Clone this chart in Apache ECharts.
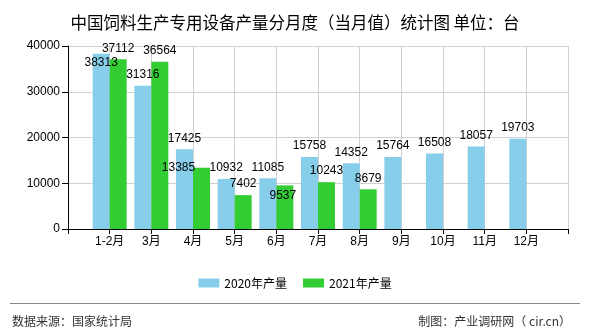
<!DOCTYPE html>
<html>
<head>
<meta charset="utf-8">
<script src="https://cdn.jsdelivr.net/npm/echarts@6/dist/echarts.min.js"></script>
<style>
html,body{margin:0;padding:0;background:#fff;}
#chart{width:590px;height:330px;}
</style>
</head>
<body>
<div id="chart"></div>
<script>
const titleText = '中国饲料生产专用设备产量分月度（当月值）统计图 单位：台';
const categories = ['1-2月','3月','4月','5月','6月','7月','8月','9月','10月','11月','12月'];
const seriesNames = ['2020年产量','2021年产量'];
const values2020 = [38313, 31316, 17425, 10932, 11085, 15758, 14352, 15764, 16508, 18057, 19703];
const values2021 = [37112, 36564, 13385, 7402, 9537, 10243, 8679];
const yTicks = [0, 10000, 20000, 30000, 40000];

const colors = ['#87CEEB', '#32CD32'];
const font = '"Liberation Sans", Arial, "Noto Sans CJK SC", sans-serif';
const cjkFont = '"Noto Sans CJK SC", "Liberation Sans", sans-serif';

// label nudges to mimic reference's collision avoidance (style, not data)
const labelShift = [{0: [0, 20]}, {2: [-23, 11], 4: [-2, 21]}];

function buildData(vals, si) {
  const arr = [null];
  for (let i = 0; i < categories.length; i++) {
    const v = i < vals.length ? vals[i] : null;
    if (v == null) { arr.push(null); continue; }
    const item = {value: v};
    if (labelShift[si][i]) item.label = {offset: labelShift[si][i]};
    arr.push(item);
  }
  arr.push(null);
  return arr;
}

const axisCats = [''].concat(categories).concat(['']);

const chart = echarts.init(document.getElementById('chart'));
chart.setOption({
  animation: false,
  backgroundColor: '#fff',
  title: {
    text: titleText,
    left: 'center',
    top: 9,
    textStyle: {fontSize: 16.5, fontWeight: 'normal', color: '#000', fontFamily: cjkFont}
  },
  legend: {
    data: seriesNames,
    left: 'center',
    top: 272,
    itemWidth: 21,
    itemHeight: 9,
    itemGap: 16,
    textStyle: {fontSize: 12, color: '#000', fontFamily: cjkFont},
    icon: 'rect'
  },
  grid: {left: 68, right: 22, top: 46, bottom: 101, containLabel: false},
  xAxis: {
    type: 'category',
    data: axisCats,
    boundaryGap: false,
    axisLine: {lineStyle: {color: '#000', width: 1}},
    axisTick: {show: true, length: 5, interval: 0, lineStyle: {color: '#000'}},
    axisLabel: {interval: 0, margin: 7, fontSize: 12, color: '#000', fontFamily: font},
    splitLine: {show: true, interval: 0, lineStyle: {color: '#d0d0d0', width: 1}}
  },
  yAxis: {
    type: 'value',
    min: yTicks[0],
    max: yTicks[yTicks.length - 1],
    interval: yTicks[1] - yTicks[0],
    axisLine: {show: true, lineStyle: {color: '#000', width: 1}},
    axisTick: {show: true, length: 6, lineStyle: {color: '#000'}},
    axisLabel: {margin: 8, fontSize: 12, color: '#000', fontFamily: font, formatter: function (v) { return String(v); }},
    splitLine: {show: true, lineStyle: {color: '#d0d0d0', width: 1}}
  },
  series: [
    {
      name: seriesNames[0], type: 'bar', barWidth: 17, barGap: '0%',
      itemStyle: {color: colors[0]},
      label: {show: true, position: 'top', distance: 5, fontSize: 12, color: '#000', fontFamily: font},
      data: buildData(values2020, 0)
    },
    {
      name: seriesNames[1], type: 'bar', barWidth: 17, barGap: '0%',
      itemStyle: {color: colors[1]},
      label: {show: true, position: 'top', distance: 5, fontSize: 12, color: '#000', fontFamily: font},
      data: buildData(values2021, 1)
    }
  ],
  graphic: [
    {type: 'line', shape: {x1: 10, y1: 303.5, x2: 580, y2: 303.5}, style: {stroke: '#888', lineWidth: 1}},
    {type: 'text', left: 12, top: 315, style: {text: '数据来源：国家统计局', fontSize: 12, fill: '#333', fontFamily: cjkFont}},
    {type: 'text', right: 19, top: 315, style: {text: '制图：产业调研网（ cir.cn）', fontSize: 12, fill: '#333', fontFamily: cjkFont}}
  ]
});
</script>
</body>
</html>
